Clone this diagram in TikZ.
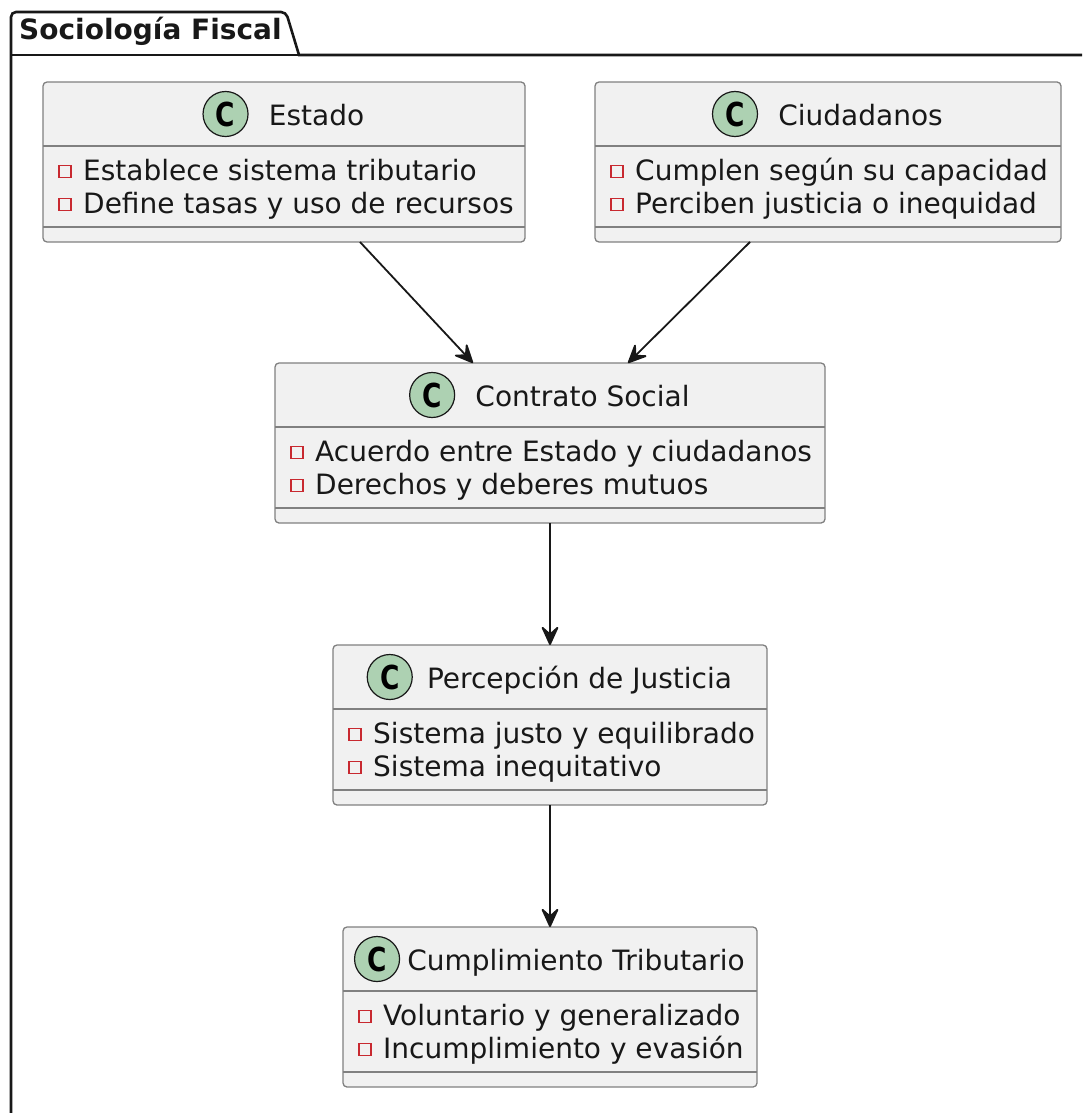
\documentclass[tikz,border=0pt]{standalone}
\usepackage{fontspec}
\setmainfont{DejaVu Sans}
\usetikzlibrary{
  positioning,
  arrows.meta,
  calc
}
\definecolor{boxfill}{HTML}{F1F1F1}
\definecolor{iconfill}{HTML}{ADD1B2}
\definecolor{inkdark}{HTML}{181818}
\definecolor{privred}{HTML}{C82930}
\tikzset{
  classbox/.style={
    draw=black!50,
    line width=1.3pt,
    fill=boxfill,
    rounded corners=4pt,
    minimum height=160pt,
    inner sep=0pt,
    outer sep=0pt,
  },
  divider/.style={
    draw=black!50,
    line width=1.3pt,
  },
  classtitle/.style={
    font=\fontsize{28pt}{34pt}\selectfont,
    text=inkdark,
    inner sep=0pt,
    text height=22pt,
    text depth=0pt,
  },
  classicon/.style={
    circle,
    draw=inkdark,
    line width=1.2pt,
    fill=iconfill,
    minimum size=45pt,
    inner sep=0pt,
    font=\fontsize{33pt}{33pt}\selectfont\bfseries,
  },
  member/.style={
    font=\fontsize{28pt}{34pt}\selectfont,
    text=inkdark,
    inner sep=0pt,
    anchor=base west,
  },
  privmark/.style={
    draw=privred,
    line width=1.3pt,
    minimum size=12pt,
    inner sep=0pt,
  },
  assoc/.style={
    draw=inkdark,
    line width=1.8pt,
    arrows={-Stealth[length=22pt,width=20pt,inset=9pt,round]},
  },
  pkgframe/.style={
    draw=inkdark,
    line width=2.6pt,
  },
  pkgtitle/.style={
    font=\fontsize{28pt}{34pt}\selectfont\bfseries,
    text=inkdark,
    inner sep=0pt,
    anchor=base west,
  },
}
\newcommand{\iconC}{\scalebox{0.8}[1]{C}}
% #1 gap between icon and title
\newcommand{\classparts}[5][20pt]{%
  \draw[divider] ([yshift=-64pt]#2.north west) -- ([yshift=-64pt]#2.north east);
  \draw[divider] ([yshift=-145pt]#2.north west) -- ([yshift=-145pt]#2.north east);
  \node[classtitle] (#2-title) at ([xshift={(45pt+#1)/2},yshift=-32pt]#2.north) {#3};
  \node[classicon,left=#1 of #2-title] (#2-icon) {\iconC};
  \node[privmark] (#2-p1) at ([shift={(22pt,-89.5pt)}]#2.north west) {};
  \node[privmark] (#2-p2) at ([shift={(22pt,-122.5pt)}]#2.north west) {};
  \node[member] (#2-m1) at ([shift={(40pt,-98pt)}]#2.north west) {#4};
  \node[member] (#2-m2) at ([shift={(40pt,-131pt)}]#2.north west) {#5};
}

\begin{document}
\begin{tikzpicture}[x=1pt,y=1pt,node distance=122pt]
		\useasboundingbox (0,0) rectangle (1082,-1113);
		\clip (0,0) rectangle (1082,-1113);

		% package frame
		\draw[pkgframe] (11,-1140) [rounded corners=5pt] -- (11,-12) -- (286,-12) [sharp corners] -- (299,-55) -- (1110,-55);
		\draw[pkgframe] (11,-55) -- (299,-55);
		\node[pkgtitle] (pkg) at (19,-40) {Sociología Fiscal};

		% classes
		\node[classbox,minimum width=482pt] (estado) at (284,-162) {};
		\node[classbox,minimum width=466pt] (ciudadanos) at (828,-162) {};
		\node[classbox,minimum width=550pt] (contrato) at (550,-443) {};
		\node[classbox,minimum width=434pt,below=of contrato] (percepcion) {};
		\node[classbox,minimum width=414pt,below=of percepcion] (cumplimiento) {};

		\classparts{estado}{Estado}{Establece sistema tributario}{Define tasas y uso de recursos}
		\classparts{ciudadanos}{Ciudadanos}{Cumplen según su capacidad}{Perciben justicia o inequidad}
		\classparts{contrato}{Contrato Social}{Acuerdo entre Estado y ciudadanos}{Derechos y deberes mutuos}
		\classparts[14pt]{percepcion}{Percepción de Justicia}{Sistema justo y equilibrado}{Sistema inequitativo}
		\classparts[7pt]{cumplimiento}{Cumplimiento Tributario}{Voluntario y generalizado}{Incumplimiento y evasión}

		% edges
		\draw[assoc] ([xshift=76pt]estado.south) -- ([xshift=-77pt]contrato.north);
		\draw[assoc] ([xshift=-78pt]ciudadanos.south) -- ([xshift=78pt]contrato.north);
		\draw[assoc] (contrato.south) -- (percepcion.north);
		\draw[assoc] (percepcion.south) -- (cumplimiento.north);
	\end{tikzpicture}
\end{document}
